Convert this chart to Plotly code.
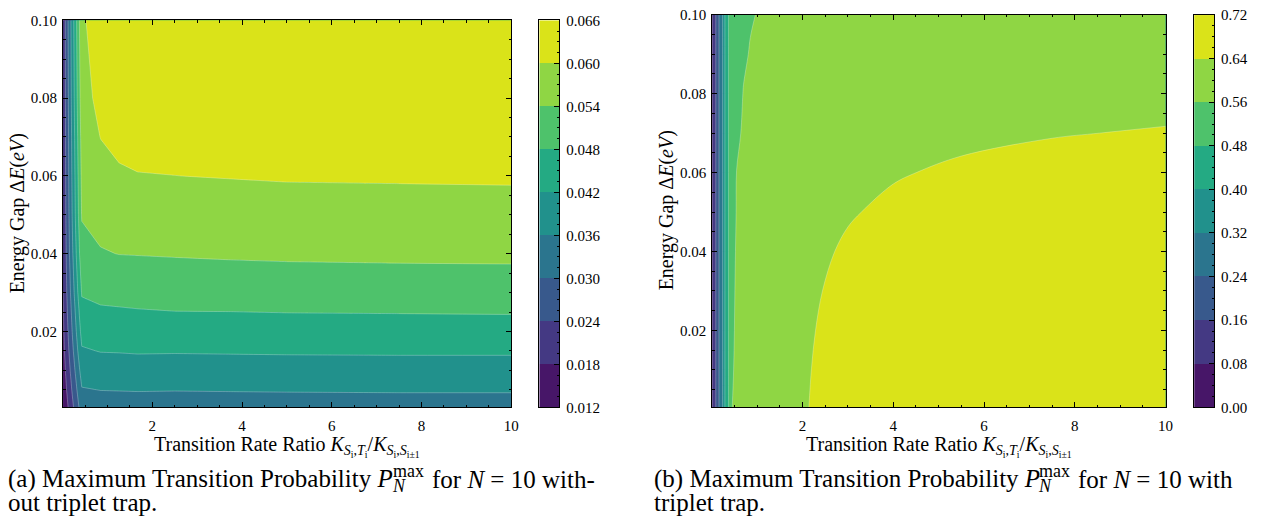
import plotly.graph_objects as go

FONT = "Liberation Serif"
W, H = 1271, 520

# ---------------------------------------------------------------------------
# Contour levels (also the colour-bar ticks)
levels_a = [0.012, 0.018, 0.024, 0.030, 0.036, 0.042, 0.048, 0.054, 0.060, 0.066]
levels_b = [0.00, 0.08, 0.16, 0.24, 0.32, 0.40, 0.48, 0.56, 0.64, 0.72]

# viridis sampled at the centre of each of the nine bands
band_colors = ["#471668", "#443983", "#38598c", "#2b758e", "#21918c",
               "#24aa83", "#4ec26b", "#8fd644", "#dae319"]

# ---------------------------------------------------------------------------
# (a) without triplet trap: P_N^max on a (gap, ratio) grid
ratio_a = [0.01, 0.426, 0.843, 1.259, 1.675, 2.5, 3.75, 5.0, 7.5, 10.0]
gap_a = [0.0005, 0.005, 0.01, 0.015, 0.02, 0.03, 0.04, 0.05, 0.06, 0.07, 0.08, 0.1]
pmax_a = [
    [0.0125, 0.0331, 0.0333, 0.0332, 0.0333, 0.0333, 0.0334, 0.0334, 0.0335, 0.0335],
    [0.0140, 0.0356, 0.0361, 0.0362, 0.0363, 0.0362, 0.0363, 0.0364, 0.0365, 0.0365],
    [0.0152, 0.0385, 0.0392, 0.0393, 0.0394, 0.0394, 0.0395, 0.0396, 0.0396, 0.0396],
    [0.0162, 0.0414, 0.0422, 0.0423, 0.0425, 0.0424, 0.0425, 0.0426, 0.0427, 0.0427],
    [0.0170, 0.0439, 0.0448, 0.0449, 0.0452, 0.0456, 0.0456, 0.0457, 0.0458, 0.0459],
    [0.0180, 0.0485, 0.0495, 0.0498, 0.0500, 0.0502, 0.0503, 0.0505, 0.0506, 0.0507],
    [0.0186, 0.0520, 0.0536, 0.0541, 0.0542, 0.0544, 0.0547, 0.0549, 0.0551, 0.0552],
    [0.0189, 0.0544, 0.0559, 0.0568, 0.0570, 0.0572, 0.0576, 0.0579, 0.0580, 0.0581],
    [0.0191, 0.0553, 0.0581, 0.0595, 0.0599, 0.05998, 0.0602, 0.0604, 0.0605, 0.0606],
    [0.0192, 0.0562, 0.0601, 0.0610, 0.0609, 0.0613, 0.0615, 0.0617, 0.0618, 0.0619],
    [0.0193, 0.0575, 0.0618, 0.0616, 0.0618, 0.0622, 0.0624, 0.0626, 0.0627, 0.0628],
    [0.0195, 0.0590, 0.0634, 0.0627, 0.0630, 0.0634, 0.0636, 0.0638, 0.0639, 0.0640],
]

# (b) with triplet trap
ratio_b = [0.01, 0.09, 0.16, 0.24, 0.29, 0.37, 0.45, 0.55, 0.7, 0.85, 1.0,
           1.3, 1.7, 2.2, 3.0, 4.0, 5.5, 7.5, 10.0]
gap_b = [0.0005, 0.01, 0.02, 0.03, 0.04, 0.05, 0.06, 0.07, 0.08, 0.09, 0.1]
pmax_b = [
    [0.075, 0.161, 0.241, 0.321, 0.401, 0.481, 0.5598, 0.5703, 0.5832, 0.5938, 0.6026, 0.6165, 0.6297, 0.6414, 0.6536, 0.6632, 0.6718, 0.6785, 0.6834],
    [0.075, 0.161, 0.241, 0.321, 0.401, 0.481, 0.5554, 0.5696, 0.5824, 0.5929, 0.6016, 0.6153, 0.6285, 0.6401, 0.6521, 0.6615, 0.6701, 0.6767, 0.6815],
    [0.075, 0.161, 0.241, 0.321, 0.401, 0.481, 0.5512, 0.5690, 0.5817, 0.5921, 0.6007, 0.6143, 0.6273, 0.6387, 0.6507, 0.6601, 0.6686, 0.6751, 0.6799],
    [0.075, 0.161, 0.241, 0.321, 0.401, 0.481, 0.5475, 0.5683, 0.5807, 0.5908, 0.5993, 0.6126, 0.6253, 0.6365, 0.6482, 0.6574, 0.6657, 0.6721, 0.6768],
    [0.075, 0.161, 0.241, 0.321, 0.401, 0.481, 0.5412, 0.5670, 0.5790, 0.5888, 0.5969, 0.6097, 0.6220, 0.6328, 0.6441, 0.6530, 0.6610, 0.6671, 0.6717],
    [0.075, 0.161, 0.241, 0.321, 0.401, 0.481, 0.5296, 0.5644, 0.5757, 0.5850, 0.5927, 0.6049, 0.6166, 0.6268, 0.6375, 0.6459, 0.6535, 0.6594, 0.6636],
    [0.075, 0.161, 0.241, 0.321, 0.401, 0.481, 0.5205, 0.5616, 0.5722, 0.5808, 0.5880, 0.5993, 0.6102, 0.6197, 0.6297, 0.6376, 0.6447, 0.6501, 0.6541],
    [0.075, 0.161, 0.241, 0.321, 0.401, 0.481, 0.5111, 0.5487, 0.5675, 0.5754, 0.5819, 0.5922, 0.6021, 0.6108, 0.6199, 0.6270, 0.6335, 0.6385, 0.6421],
    [0.075, 0.161, 0.241, 0.321, 0.401, 0.481, 0.5120, 0.5400, 0.5621, 0.5693, 0.5753, 0.5847, 0.5937, 0.6016, 0.6099, 0.6164, 0.6222, 0.6268, 0.6300],
    [0.075, 0.161, 0.241, 0.321, 0.401, 0.481, 0.5050, 0.5300, 0.5530, 0.5630, 0.5681, 0.5778, 0.5865, 0.5938, 0.6019, 0.6083, 0.6139, 0.6183, 0.6215],
    [0.075, 0.161, 0.241, 0.321, 0.401, 0.481, 0.4970, 0.5150, 0.5400, 0.5560, 0.5614, 0.5705, 0.5792, 0.5869, 0.5949, 0.6012, 0.6068, 0.6113, 0.6144],
]

x_title = ("Transition Rate Ratio <i>K</i><sub><i>S</i><sub>i</sub>,<i>T</i><sub>i</sub></sub>"
           "/<i>K</i><sub><i>S</i><sub>i</sub>,<i>S</i><sub>i±1</sub></sub>")
y_title = "Energy Gap Δ<i>E</i>(<i>eV</i>)"
# captions: text before the symbol, its sub/superscript, text after it, second line
caption_a = ["(a) Maximum Transition Probability <i>P</i>", "<i>N</i>", "max",
             "for <i>N</i> = 10 with-", "out triplet trap."]
caption_b = ["(b) Maximum Transition Probability <i>P</i>", "<i>N</i>", "max",
             "for <i>N</i> = 10 with", "triplet trap."]


# ---------------------------------------------------------------------------
def px_x(p):
    return p / W


def px_y(p):
    return 1 - p / H


def contour_scale(colors):
    # plotly samples contour fills at k/n (k = 0..n); band 0 lies below the
    # first level and band n above the last one
    bands = [colors[0]] + colors + [colors[-1]]
    n = len(bands) - 1
    scale = []
    for k, c in enumerate(bands):
        scale += [[max(0.0, (k - 0.5) / n), c], [min(1.0, (k + 0.5) / n), c]]
    return scale


def bar_scale(colors):
    n = len(colors)
    scale = []
    for i, c in enumerate(colors):
        scale += [[i / n, c], [(i + 1) / n, c]]
    return scale


tick_font = dict(family=FONT, size=15, color="black")
frame = dict(showline=True, linecolor="black", linewidth=1, showgrid=False,
             zeroline=False, tickfont=tick_font)


def main_axes(xdom, ydom, xanchor, yanchor):
    xa = dict(frame, domain=xdom, anchor=yanchor, range=[0.01, 10], mirror="allticks",
              ticks="inside", ticklen=5, tickwidth=1, tickcolor="black",
              tickmode="linear", tick0=0, dtick=2, ticklabelstandoff=5,
              minor=dict(ticks="inside", tickmode="linear", tick0=0, dtick=0.5,
                         ticklen=2.5, tickwidth=0.8, tickcolor="black", showgrid=False))
    ya = dict(frame, domain=ydom, anchor=xanchor, range=[0.0005, 0.1], mirror="allticks",
              ticks="inside", ticklen=5, tickwidth=1, tickcolor="black",
              tickmode="linear", tick0=0, dtick=0.02, tickformat=".2f",
              ticklabelstandoff=2,
              minor=dict(ticks="inside", tickmode="linear", tick0=0, dtick=0.005,
                         ticklen=2.5, tickwidth=0.8, tickcolor="black", showgrid=False))
    return xa, ya


def bar_axes(xdom, ydom, xanchor, yanchor, levels, fmt):
    step = levels[1] - levels[0]
    xa = dict(frame, domain=xdom, anchor=yanchor, range=[0, 1], mirror=True,
              showticklabels=False, ticks="")
    ya = dict(frame, domain=ydom, anchor=xanchor, side="right", mirror=True,
              range=[levels[0], levels[-1]], ticks="inside", ticklen=5,
              tickwidth=1, tickcolor="black", tickmode="array", tickvals=levels,
              ticktext=[fmt.format(v) for v in levels], ticklabelstandoff=3,
              minor=dict(ticks="inside", tickmode="linear", tick0=levels[0],
                         dtick=step / 4, ticklen=2.5, tickwidth=0.8,
                         tickcolor="black", showgrid=False))
    return xa, ya


def panel_traces(x, y, z, levels, xa, ya, xb, yb, smooth):
    step = levels[1] - levels[0]
    mids = [(levels[i] + levels[i + 1]) / 2 for i in range(len(levels) - 1)]
    field = go.Contour(
        x=x, y=y, z=z, xaxis=xa, yaxis=ya, autocontour=False,
        contours=dict(start=levels[0], end=levels[-1] + step * 0.01, size=step,
                      coloring="fill", showlines=True),
        colorscale=contour_scale(band_colors), showscale=False,
        line=dict(width=0.6, color="rgba(255,255,255,0.45)", smoothing=smooth),
        hoverinfo="skip")
    bar = go.Heatmap(
        x=[0, 1], y=levels, z=[[m] for m in mids], xaxis=xb, yaxis=yb,
        colorscale=bar_scale(band_colors), zmin=levels[0], zmax=levels[-1],
        showscale=False, hoverinfo="skip")
    return [field, bar]


fig = go.Figure()
for t in panel_traces(ratio_a, gap_a, pmax_a, levels_a, "x", "y", "x2", "y2", 0):
    fig.add_trace(t)
for t in panel_traces(ratio_b, gap_b, pmax_b, levels_b, "x3", "y3", "x4", "y4", 1):
    fig.add_trace(t)

xa1, ya1 = main_axes([px_x(63.5), px_x(514.5)], [px_y(412), px_y(12.7)], "x", "y")
xa2, ya2 = bar_axes([px_x(542.7), px_x(562.7)], [px_y(412), px_y(12.7)], "x2", "y2",
                    levels_a, "{:.3f}")
xa3, ya3 = main_axes([px_x(716.7), px_x(1173)], [px_y(412), px_y(7)], "x3", "y3")
xa4, ya4 = bar_axes([px_x(1201.7), px_x(1221.7)], [px_y(412), px_y(7.3)], "x4", "y4",
                    levels_b, "{:.2f}")

annotations = []


def text(s, x, y, size, xanchor="center", angle=0):
    annotations.append(dict(text=s, x=px_x(x), y=px_y(y), xref="paper", yref="paper",
                            showarrow=False, xanchor=xanchor, yanchor="middle",
                            textangle=angle, font=dict(family=FONT, size=size, color="black")))


def caption(parts, x0, y0, size, line_gap):
    # "P" ends after ~15.44 em of Times-metric text; N and max are stacked there
    p_end = x0 + 15.44 * size
    small = round(size * 0.7)
    text(parts[0], x0, y0, size, xanchor="left")
    text(parts[1], p_end + 0.5, y0 + 0.3 * size, small, xanchor="left")
    text(parts[2], p_end + 1.5, y0 - 0.33 * size, small, xanchor="left")
    text(parts[3], p_end + 1.5 + 1.75 * small + 0.3 * size, y0, size, xanchor="left")
    text(parts[4], x0, y0 + line_gap, size, xanchor="left")


text(y_title, 18, 212, 20, angle=-90)
text(x_title, 289, 452, 20)
text(y_title, 671, 209, 20, angle=-90)
text(x_title, 945, 452, 20)
caption(caption_a, 6, 486, 25, 24)
caption(caption_b, 656, 486, 25, 24)

fig.update_layout(
    width=W, height=H, margin=dict(l=0, r=0, t=0, b=0),
    paper_bgcolor="white", plot_bgcolor="white", showlegend=False,
    xaxis=xa1, yaxis=ya1, xaxis2=xa2, yaxis2=ya2,
    xaxis3=xa3, yaxis3=ya3, xaxis4=xa4, yaxis4=ya4,
    annotations=annotations, font=dict(family=FONT, color="black"),
)

fig.write_html("out.html")
